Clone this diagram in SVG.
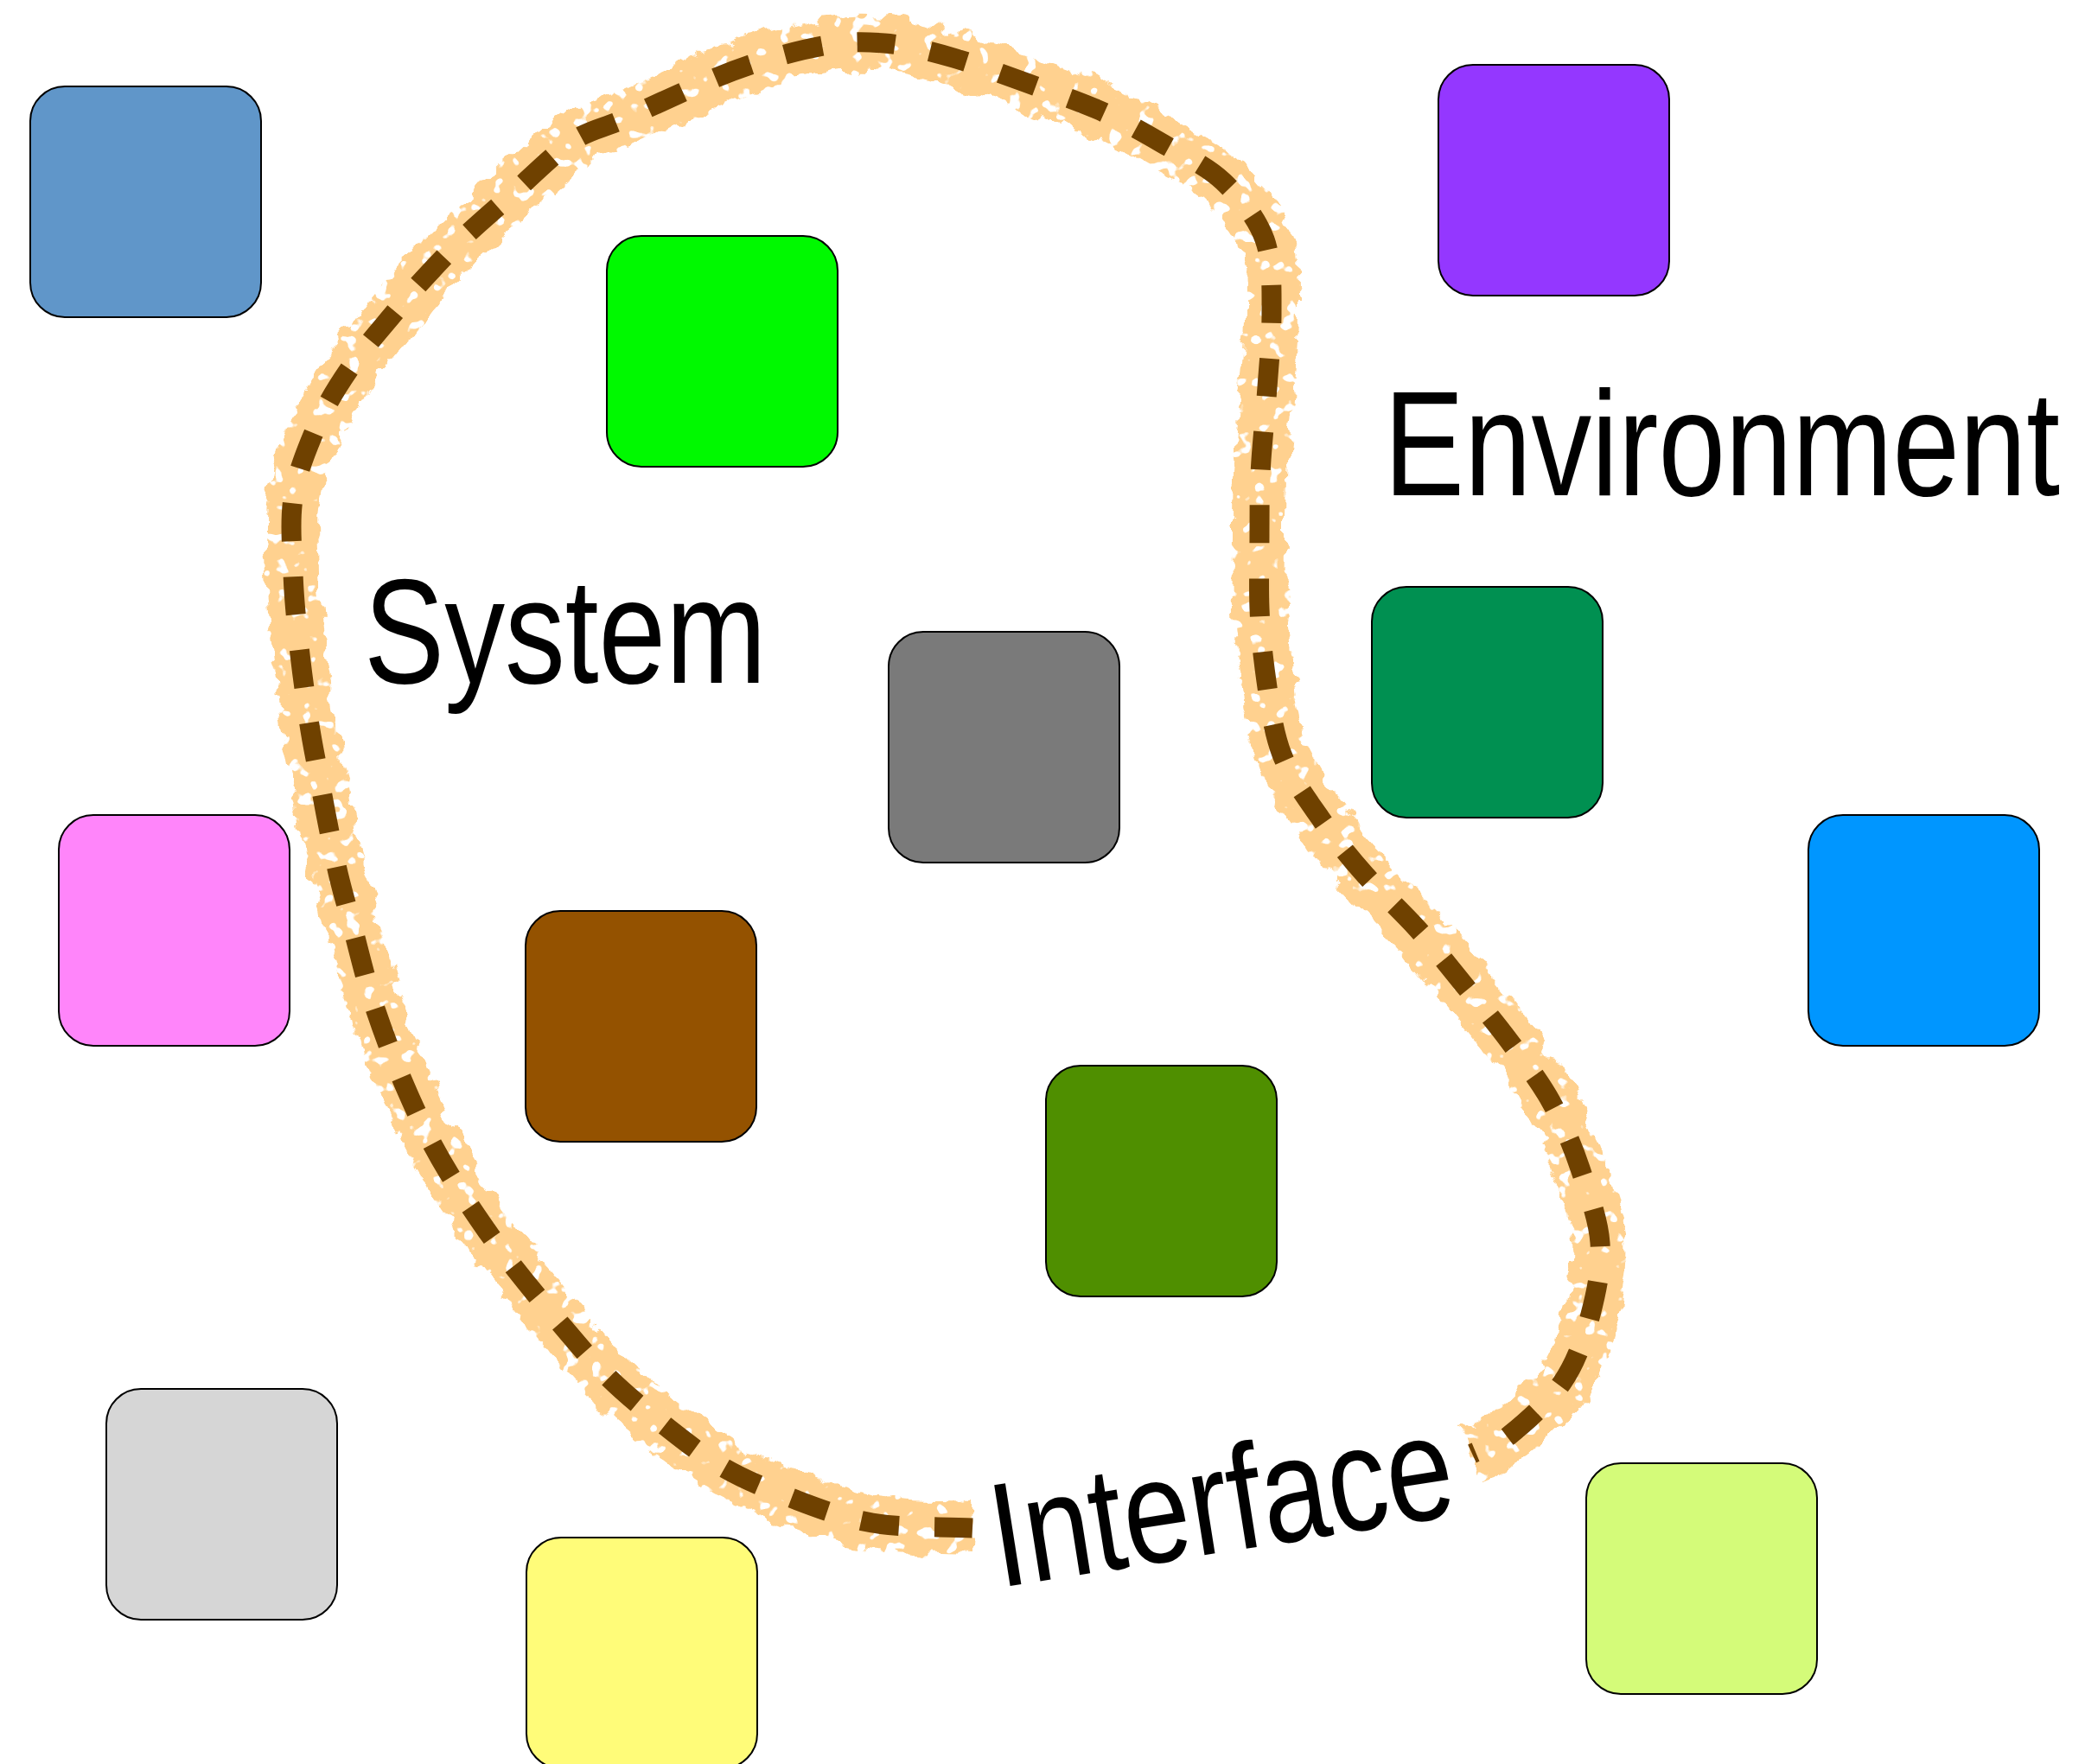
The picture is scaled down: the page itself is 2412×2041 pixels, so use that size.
<svg xmlns="http://www.w3.org/2000/svg" width="2412" height="2041" viewBox="0 0 2412 2041">
  <style>
    .box { stroke: #000000; stroke-width: 2; }
    .label { font-family: "Liberation Sans", Arial, sans-serif; font-size: 172px; fill: #000000; }
    .halo { fill: none; stroke: #FFD18F; stroke-width: 62; stroke-linecap: butt; stroke-linejoin: round; }
    .dash { fill: none; stroke: #6F4100; stroke-width: 23; stroke-dasharray: 44 41; stroke-linecap: butt; }
  </style>
  <defs>
    <!-- frayed, speckled edge for the boundary band -->
    <filter id="rough" x="-10%" y="-10%" width="120%" height="120%">
      <feTurbulence type="fractalNoise" baseFrequency="0.04" numOctaves="3" seed="3" result="noise"/>
      <feDisplacementMap in="SourceGraphic" in2="noise" scale="24" xChannelSelector="R" yChannelSelector="G" result="frayed"/>
      <feTurbulence type="fractalNoise" baseFrequency="0.06" numOctaves="2" seed="11" result="spots"/>
      <feColorMatrix in="spots" type="matrix" values="0 0 0 0 0  0 0 0 0 0  0 0 0 0 0  -18 0 0 0 12.3" result="holes"/>
      <feComposite in="frayed" in2="holes" operator="in"/>
    </filter>
    <path id="boundary" d="M1125,1768 C1086,1766 1043,1768 1009,1762 S949,1746 920,1735 S863,1713 837,1698 S789,1665 766,1647 S721,1611 701,1591 S665,1551 647,1530 S610,1486 592,1463 S558,1417 542,1393 S511,1345 498,1320 S474,1270 463,1244 S442,1191 433,1164 S417,1108 410,1081 S395,1029 389,1001 S377,943 372,915 S361,860 357,832 S349,776 346,748 S340,692 339,663 S335,605 339,577 S354,522 365,496 S391,446 407,423 S443,378 461,356 S498,314 518,293 S559,254 583,233 S637,181 660,165 S697,149 721,138 S780,111 805,100 S849,81 874,73 S933,56 958,52 S999,48 1023,50 S1076,59 1103,67 S1161,86 1188,96 S1242,115 1268,126 S1319,151 1343,165 S1395,191 1415,210 S1454,252 1463,277 S1471,335 1471,363 S1468,420 1466,448 S1461,504 1459,532 S1457,588 1457,617 S1456,676 1457,704 S1461,760 1465,788 S1473,847 1483,873 S1511,923 1527,946 S1560,991 1579,1012 S1621,1054 1640,1075 S1676,1118 1694,1140 S1730,1183 1747,1206 S1782,1252 1795,1276 S1819,1325 1828,1352 S1849,1410 1851,1438 S1847,1494 1840,1521 S1823,1577 1807,1600 S1764,1646 1747,1660 S1718,1675 1703,1682"/>
  </defs>

  <rect width="2412" height="2041" fill="#FFFFFF"/>

  <!-- system boundary -->
  <g id="connectors">
    <use href="#boundary" class="halo" filter="url(#rough)"/>
    <use href="#boundary" class="dash"/>
  </g>

  <!-- elements -->
  <g id="node-blue"><rect class="box" x="35" y="100" width="267" height="267" rx="40" fill="#6096C9"/></g>
  <g id="node-green"><rect class="box" x="702" y="273" width="267" height="267" rx="40" fill="#00F900"/></g>
  <g id="node-purple"><rect class="box" x="1664" y="75" width="267" height="267" rx="40" fill="#9437FF"/></g>
  <g id="node-gray"><rect class="box" x="1028" y="731" width="267" height="267" rx="40" fill="#7A7A7A"/></g>
  <g id="node-moss"><rect class="box" x="1587" y="679" width="267" height="267" rx="40" fill="#009051"/></g>
  <g id="node-pink"><rect class="box" x="68" y="943" width="267" height="267" rx="40" fill="#FF85FA"/></g>
  <g id="node-brown"><rect class="box" x="608" y="1054" width="267" height="267" rx="40" fill="#945200"/></g>
  <g id="node-fern"><rect class="box" x="1210" y="1233" width="267" height="267" rx="40" fill="#4F8F00"/></g>
  <g id="node-aqua"><rect class="box" x="2092" y="943" width="267" height="267" rx="40" fill="#0096FF"/></g>
  <g id="node-silver"><rect class="box" x="123" y="1607" width="267" height="267" rx="40" fill="#D6D6D6"/></g>
  <g id="node-banana"><rect class="box" x="609" y="1779" width="267" height="267" rx="40" fill="#FFFC79"/></g>
  <g id="node-honeydew"><rect class="box" x="1835" y="1693" width="267" height="267" rx="40" fill="#D4FB79"/></g>

  <!-- labels (condensed horizontally) -->
  <g id="label-system"><text class="label" transform="translate(421,790) scale(0.812,1)">System</text></g>
  <g id="label-environment"><text class="label" transform="translate(1601,573) scale(0.81,1)">Environment</text></g>
  <g id="label-interface"><text class="label" transform="translate(1156,1837) rotate(-9) scale(0.805,1)">Interface</text></g>
</svg>
